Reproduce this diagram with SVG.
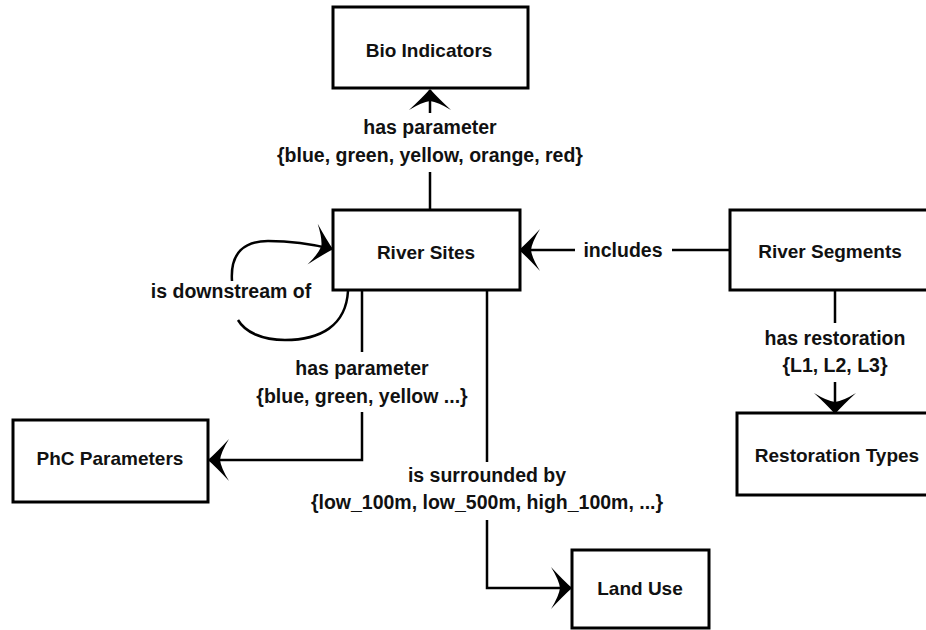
<svg xmlns="http://www.w3.org/2000/svg" width="926" height="630" viewBox="0 0 926 630">
<style>
.box{fill:#fff;stroke:#000;stroke-width:3}
.nt{font-family:"Liberation Sans",Arial,sans-serif;font-weight:bold;font-size:19px;fill:#111;text-anchor:middle}
.lbl{font-family:"Liberation Sans",Arial,sans-serif;font-weight:bold;font-size:19.5px;fill:#111;text-anchor:middle}
.ln{fill:none;stroke:#000;stroke-width:2.5}
</style>
<defs>
<marker id="arr" markerUnits="userSpaceOnUse" markerWidth="40" markerHeight="44" viewBox="-22 -22 26 44" refX="0" refY="0" orient="auto">
<path d="M1,0 Q-8,-8 -20,-21 Q-12,-8 -11,0 Q-12,8 -20,21 Q-8,8 1,0 Z" fill="#000"/>
</marker>
</defs>
<rect width="926" height="630" fill="#fff"/>
<g id="connectors">
<path class="ln" d="M430 210 V172 M430 113 V90" marker-end="url(#arr)"/>
<path class="ln" d="M730 250 H672 M575 250 H520" marker-end="url(#arr)"/>
<path class="ln" d="M835 290 V323 M835 382 V413" marker-end="url(#arr)"/>
<path class="ln" d="M362 290 V352 M362 412 V460 H209" marker-end="url(#arr)"/>
<path class="ln" d="M487 290 V462 M487 520 V588 H571" marker-end="url(#arr)"/>
<path class="ln" d="M348 291 C346 326 320 340 285 340 C262 340 245 332 238 320"/>
<path class="ln" d="M232 281 C230 252 245 241 268 241 C292 241 312 244 332 249" marker-end="url(#arr)"/>
</g>
<g id="labels">
<text class="lbl" x="430" y="134">has parameter</text>
<text class="lbl" x="430" y="162">{blue, green, yellow, orange, red}</text>
<text class="lbl" x="623" y="257">includes</text>
<text class="lbl" x="835" y="345">has restoration</text>
<text class="lbl" x="835" y="372">{L1, L2, L3}</text>
<text class="lbl" x="362" y="375">has parameter</text>
<text class="lbl" x="362" y="403">{blue, green, yellow ...}</text>
<text class="lbl" x="487" y="482">is surrounded by</text>
<text class="lbl" x="487" y="509">{low_100m, low_500m, high_100m, ...}</text>
<text class="lbl" x="231" y="298">is downstream of</text>
</g>
<g id="bio-indicators">
<rect class="box" x="333" y="7" width="195" height="81"/>
<text class="nt" x="429" y="57">Bio Indicators</text>
</g>
<g id="river-sites">
<rect class="box" x="333" y="210" width="187" height="80"/>
<text class="nt" x="426" y="259">River Sites</text>
</g>
<g id="river-segments">
<rect class="box" x="730" y="210" width="200" height="80"/>
<text class="nt" x="830" y="258">River Segments</text>
</g>
<g id="restoration-types">
<rect class="box" x="737" y="413" width="200" height="82"/>
<text class="nt" x="837" y="462">Restoration Types</text>
</g>
<g id="phc-parameters">
<rect class="box" x="13" y="420" width="195" height="82"/>
<text class="nt" x="110" y="465">PhC Parameters</text>
</g>
<g id="land-use">
<rect class="box" x="572" y="550" width="137" height="78"/>
<text class="nt" x="640" y="595">Land Use</text>
</g>
</svg>
